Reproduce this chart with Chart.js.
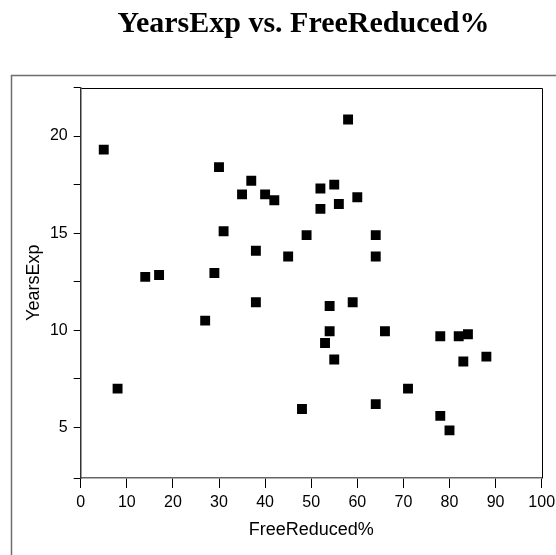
<!DOCTYPE html>
<html>
<head>
<meta charset="utf-8">
<style>
  html, body { margin: 0; padding: 0; background: #fff; }
  #wrap { width: 556px; height: 555px; position: relative; }
</style>
<script src="https://cdn.jsdelivr.net/npm/chart.js@4/dist/chart.umd.min.js"></script>
</head>
<body>
<div id="wrap"><canvas id="chart" width="556" height="555"></canvas></div>
<script>
// Scatter of teacher experience against free/reduced lunch share
const freeReduced = [5, 30, 37, 35, 40, 42, 31, 49, 38, 45, 14, 17, 29, 58, 52, 55, 60, 52, 56, 64,
  64, 38, 27, 8, 48, 54, 59, 54, 53, 55, 66, 78, 82, 84, 83, 88, 71, 64, 78, 80];
const yearsExp = [19.3, 18.4, 17.7, 17.0, 17.0, 16.7, 15.1, 14.9, 14.1, 13.8, 12.75, 12.85, 12.95, 20.85,
  17.3, 17.5, 16.85, 16.25, 16.5, 14.9, 13.8, 11.45, 10.5, 7.0, 5.95, 11.25, 11.45, 9.95, 9.35, 8.5,
  9.95, 9.7, 9.7, 9.8, 8.4, 8.65, 7.0, 6.2, 5.6, 4.85];

const xTicks = [0, 10, 20, 30, 40, 50, 60, 70, 80, 90, 100];
const yTicks = [2.4, 5, 7.5, 10, 12.5, 15, 17.5, 20, 22.5];
const yLabelled = [5, 10, 15, 20];

const chartTitle = 'YearsExp vs. FreeReduced%';
const xTitle = 'FreeReduced%';
const yTitle = 'YearsExp';

const points = freeReduced.map((x, i) => ({ x: x, y: yearsExp[i] }));

const sansFont = "'Liberation Sans', Arial, sans-serif";

function zeroPadding(scale) {
  scale.paddingLeft = 0;
  scale.paddingRight = 0;
  scale.paddingTop = 0;
  scale.paddingBottom = 0;
}

// Outer panel frame, title, and top/right border of the plot box
const decorations = {
  id: 'decorations',
  beforeDraw(chart) {
    const ctx = chart.ctx;
    ctx.save();
    ctx.strokeStyle = '#6e6e6e';
    ctx.lineWidth = 1.5;
    ctx.strokeRect(11.5, 75.5, 700, 700);
    ctx.restore();
  },
  afterDraw(chart) {
    const ctx = chart.ctx;
    const a = chart.chartArea;
    ctx.save();
    ctx.strokeStyle = '#000';
    ctx.lineWidth = 1;
    ctx.beginPath();
    ctx.moveTo(Math.round(a.left) + 0.5, Math.round(a.top) + 0.5);
    ctx.lineTo(Math.round(a.right) + 0.5, Math.round(a.top) + 0.5);
    ctx.lineTo(Math.round(a.right) + 0.5, Math.round(a.bottom) + 0.5);
    ctx.stroke();
    ctx.fillStyle = '#000';
    ctx.font = "bold 30px 'Liberation Serif', 'Times New Roman', serif";
    ctx.textAlign = 'center';
    ctx.textBaseline = 'alphabetic';
    ctx.fillText(chartTitle, 303.5, 32);
    ctx.restore();
  }
};

new Chart(document.getElementById('chart'), {
  type: 'scatter',
  data: {
    datasets: [{
      data: points,
      pointStyle: 'rect',
      pointRadius: 7,
      pointHoverRadius: 7,
      borderWidth: 0,
      backgroundColor: '#000',
      borderColor: '#000'
    }]
  },
  options: {
    responsive: false,
    animation: false,
    events: [],
    layout: { padding: { left: 0, top: 87.5, right: 14.3, bottom: 0 } },
    plugins: { legend: { display: false }, tooltip: { enabled: false }, title: { display: false } },
    scales: {
      x: {
        type: 'linear',
        min: 0,
        max: 100,
        afterBuildTicks(scale) { scale.ticks = xTicks.map(v => ({ value: v })); },
        afterFit(scale) { scale.height = 77; zeroPadding(scale); },
        ticks: {
          color: '#000',
          font: { family: sansFont, size: 16 },
          padding: 5,
          maxRotation: 0,
          autoSkip: false
        },
        grid: { drawOnChartArea: false, tickLength: 10, color: '#000', tickColor: '#000' },
        border: { display: true, color: '#666', width: 1.5 },
        title: {
          display: true,
          text: xTitle,
          color: '#000',
          font: { family: sansFont, size: 18 },
          padding: { top: 0, bottom: 13.7 }
        }
      },
      y: {
        type: 'linear',
        min: 2.4,
        max: 22.5,
        afterBuildTicks(scale) { scale.ticks = yTicks.map(v => ({ value: v })); },
        afterFit(scale) { scale.width = 80.7; zeroPadding(scale); },
        ticks: {
          color: '#000',
          font: { family: sansFont, size: 16 },
          padding: 6,
          autoSkip: false,
          callback: v => (yLabelled.includes(v) ? String(v) : '')
        },
        grid: { drawOnChartArea: false, tickLength: 7, color: '#000', tickColor: '#000' },
        border: { display: true, color: '#333', width: 1.5 },
        title: {
          display: true,
          text: yTitle,
          color: '#000',
          font: { family: sansFont, size: 18 },
          padding: { top: 23.2, bottom: 0 }
        }
      }
    }
  },
  plugins: [decorations]
});
</script>
</body>
</html>
